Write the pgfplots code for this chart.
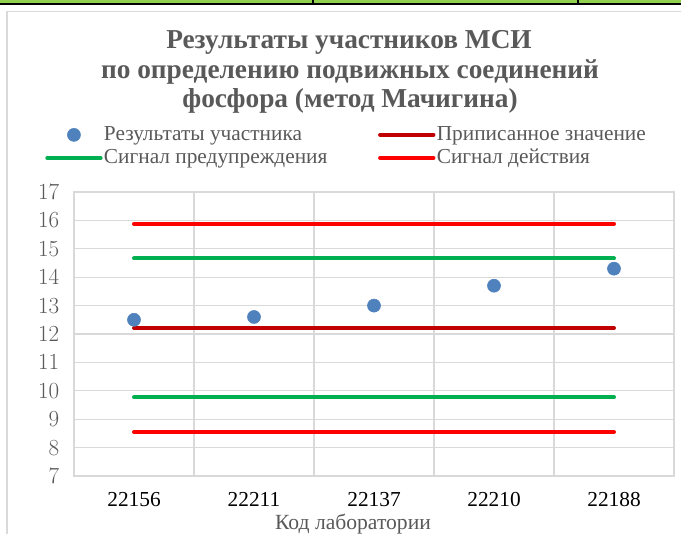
\documentclass[border=0pt]{standalone}
\usepackage{pgfplots}
\pgfplotsset{compat=1.18}
\usepackage{fontspec}
\setmainfont{Liberation Serif}
\definecolor{txt}{HTML}{595959}
\definecolor{gridc}{HTML}{D9D9D9}
\definecolor{dotc}{HTML}{4F81BD}
\definecolor{darkr}{HTML}{C00000}
\definecolor{grn}{HTML}{00B050}
\definecolor{rd}{HTML}{FF0000}
\definecolor{tgreen}{HTML}{92D050}
\begin{document}
\begin{tikzpicture}
\useasboundingbox (0,0) rectangle (510.75pt,400.5pt);
\fill[white] (0,0) rectangle (510.75pt,400.5pt);
% fragment of table above the chart
\fill[tgreen] (0,398pt) rectangle (510.75pt,400.5pt);
\draw[black,line width=1.2pt] (0,397.5pt) -- (510.75pt,397.5pt);
\draw[black,line width=1pt] (234.75pt,397.5pt) -- (234.75pt,400.5pt);
\draw[black,line width=1pt] (433.5pt,397.5pt) -- (433.5pt,400.5pt);
% chart area border
\draw[gridc,line width=0.8pt] (5.25pt,-5pt) -- (5.25pt,392pt) -- (520pt,392pt);
% title
\begin{scope}[every node/.style={anchor=base,font=\fontsize{20.5}{24}\selectfont\bfseries,text=txt,inner sep=0pt}]
\node at (261.75pt,363.75pt) {Результаты участников МСИ};
\node at (262.5pt,341.6pt) {по определению подвижных соединений};
\node at (262.5pt,319.5pt) {фосфора (метод Мачигина)};
\end{scope}
\begin{axis}[
  at={(55.5pt,43.5pt)}, anchor=south west,
  scale only axis, width=450pt, height=213pt,
  xmin=-0.5, xmax=4.5, ymin=7, ymax=17,
  xtick={0,1,2,3,4},
  xticklabels={22156,22211,22137,22210,22188},
  minor xtick={0.5,1.5,2.5,3.5},
  ytick={7,8,...,17},
  xminorgrids, ymajorgrids,
  major grid style={gridc,line width=1pt},
  minor grid style={gridc,line width=1pt},
  axis line style={gridc,line width=1pt},
  major tick length=0pt, minor tick length=0pt,
  tick label style={font=\fontsize{16}{18}\selectfont},
  yticklabel style={text=txt,xshift=-7.5pt},
  xticklabel style={text=black,yshift=-9pt},
  xlabel={Код лаборатории},
  xlabel style={at={(axis description cs:0.465,0)},anchor=base,yshift=-40.5pt,text=txt,font=\fontsize{16.2}{18}\selectfont},
  legend columns=2,
  legend cell align=left,
  legend style={draw=none,fill=none,at={(axis description cs:-0.0483,1.242)},anchor=north west,
    inner xsep=0pt,inner ysep=0pt,row sep=0.3pt,
    font=\fontsize{16}{18}\selectfont,text=txt,
    nodes={inner xsep=1pt,inner ysep=1pt,text height=11.5pt,text depth=3.5pt},
    /tikz/every even column/.append style={column sep=37pt}},
  legend image code/.code={\draw[mark repeat=2,mark phase=2,#1] plot coordinates {(0pt,0pt) (20pt,0pt) (40pt,0pt)};},
  every axis plot/.append style={line cap=round},
]
\addplot[only marks,mark=*,mark size=4.9pt,dotc,mark options={draw=dotc,fill=dotc}] coordinates {(0,12.5) (1,12.6) (2,13.0) (3,13.7) (4,14.3)};
\addlegendentry{Результаты участника}
\addplot[darkr,line width=3pt] coordinates {(0,12.21) (4,12.21)};
\addlegendentry{Приписанное значение}
\addplot[grn,line width=3pt] coordinates {(0,14.66) (4,14.66)};
\addlegendentry{Сигнал предупреждения}
\addplot[rd,line width=3pt] coordinates {(0,15.88) (4,15.88)};
\addlegendentry{Сигнал действия}
\addplot[grn,line width=3pt,forget plot] coordinates {(0,9.77) (4,9.77)};
\addplot[rd,line width=3pt,forget plot] coordinates {(0,8.55) (4,8.55)};
\end{axis}
\end{tikzpicture}
\end{document}
